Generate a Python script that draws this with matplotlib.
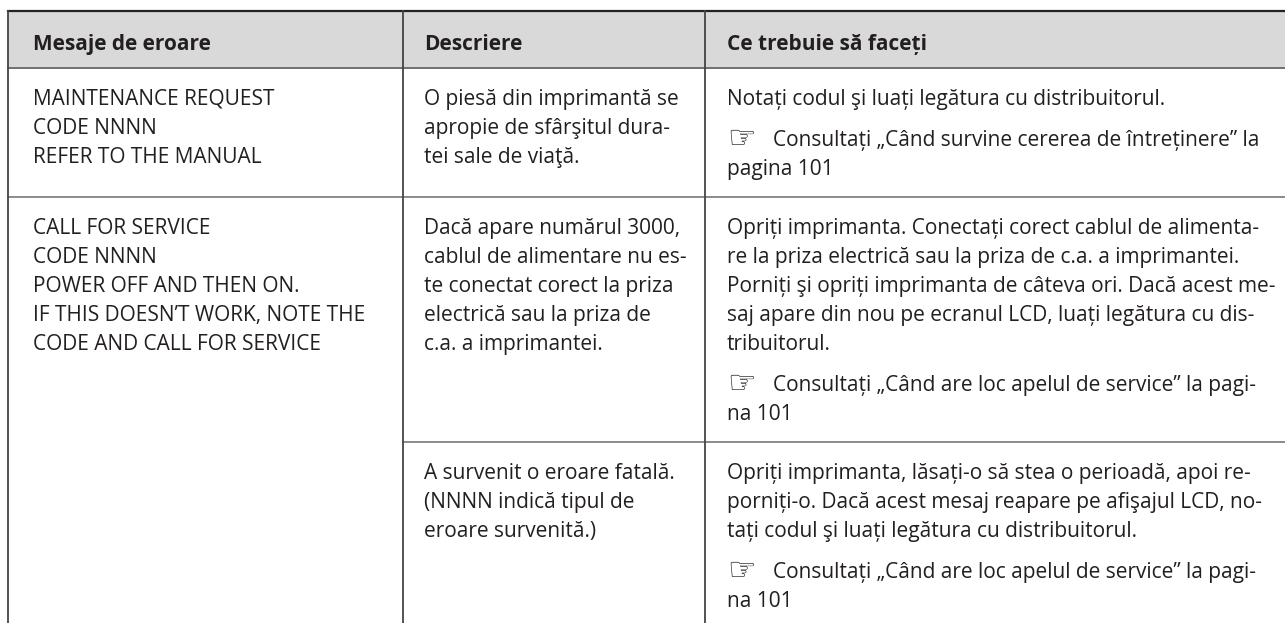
import matplotlib.pyplot as plt

plt.rcParams['font.family'] = ['Open Sans', 'DejaVu Sans']

# table content
headers = ["Mesaje de eroare", "Descriere", "Ce trebuie să faceți"]

messages = [
    ["MAINTENANCE REQUEST", "CODE NNNN", "REFER TO THE MANUAL"],
    ["CALL FOR SERVICE", "CODE NNNN", "POWER OFF AND THEN ON.",
     "IF THIS DOESN’T WORK, NOTE THE", "CODE AND CALL FOR SERVICE"],
]

descriptions = [
    ["O piesă din imprimantă se", "apropie de sfârşitul dura-", "tei sale de viaţă."],
    ["Dacă apare numărul 3000,", "cablul de alimentare nu es-", "te conectat corect la priza",
     "electrică sau la priza de", "c.a. a imprimantei."],
    ["A survenit o eroare fatală.", "(NNNN indică tipul de", "eroare survenită.)"],
]

actions = [
    [["Notați codul şi luați legătura cu distribuitorul."],
     ["☞", "Consultați „Când survine cererea de întreținere” la", "pagina 101"]],
    [["Opriți imprimanta. Conectați corect cablul de alimenta-",
      "re la priza electrică sau la priza de c.a. a imprimantei.",
      "Porniți şi opriți imprimanta de câteva ori. Dacă acest me-",
      "saj apare din nou pe ecranul LCD, luați legătura cu dis-",
      "tribuitorul."],
     ["☞", "Consultați „Când are loc apelul de service” la pagi-", "na 101"]],
    [["Opriți imprimanta, lăsați-o să stea o perioadă, apoi re-",
      "porniți-o. Dacă acest mesaj reapare pe afişajul LCD, no-",
      "tați codul şi luați legătura cu distribuitorul."],
     ["☞", "Consultați „Când are loc apelul de service” la pagi-", "na 101"]],
]

W, H = 1285, 623
fig = plt.figure(figsize=(W / 100, H / 100), dpi=100)
ax = fig.add_axes([0, 0, 1, 1])
ax.set_xlim(0, W)
ax.set_ylim(H, 0)
ax.axis('off')

txt = '#231f20'
fs = 15
col_x = [8, 403, 705]
pad_x = [25, 21, 22]
top, head_bot = 11, 68
pitch, gap, first, bottom_pad = 29, 12, 37, 22

# header
ax.fill_between([col_x[0], W], top, head_bot, color='#d9d9d9', lw=0)
for x, px, h in zip(col_x, pad_x, headers):
    ax.text(x + px, 50, h, fontsize=fs, fontweight='bold', color=txt, va='baseline')


def para_lines(paras):
    # (y offset, text, starts with the hand icon)
    out = []
    y = 0
    for p in paras:
        if p[0] == "☞":
            out.append((y, p[1], True))
            y += pitch
            for line in p[2:]:
                out.append((y, line, False))
                y += pitch
        else:
            for line in p:
                out.append((y, line, False))
                y += pitch
        y += gap
    return out, y - gap - pitch


row_top = head_bot
row_lines = []
for r in range(3):
    base = row_top + first
    lines, last = para_lines(actions[r])
    n_left = len(descriptions[r])
    if r < 2:
        n_left = max(n_left, len(messages[r]))
        for i, m in enumerate(messages[r]):
            ax.text(col_x[0] + pad_x[0], base + i * pitch, m, fontsize=fs, color=txt, va='baseline')
    for i, d in enumerate(descriptions[r]):
        ax.text(col_x[1] + pad_x[1], base + i * pitch, d, fontsize=fs, color=txt, va='baseline')
    x0 = col_x[2] + pad_x[2]
    for dy, t, icon in lines:
        if icon:
            ax.text(x0, base + dy + 1, "☞", fontsize=fs + 8, color=txt, va='baseline',
                    family='DejaVu Sans')
            ax.text(x0 + 46, base + dy, t, fontsize=fs, color=txt, va='baseline')
        else:
            ax.text(x0, base + dy, t, fontsize=fs, color=txt, va='baseline')
    last = max(last, (n_left - 1) * pitch)
    row_top = base + last + bottom_pad
    row_lines.append(row_top)

# grid lines
ax.plot([col_x[0], W], [top, top], color='#222222', lw=1.6)
ax.plot([col_x[0], W], [head_bot, head_bot], color='#707070', lw=1.4)
ax.plot([col_x[0], W], [row_lines[0], row_lines[0]], color='#8a8a8a', lw=1.4)
ax.plot([col_x[1], W], [row_lines[1], row_lines[1]], color='#8a8a8a', lw=1.4)
for x in col_x:
    ax.plot([x, x], [top, H], color='#444444', lw=1.3)

fig.savefig('out.png', dpi=100)
